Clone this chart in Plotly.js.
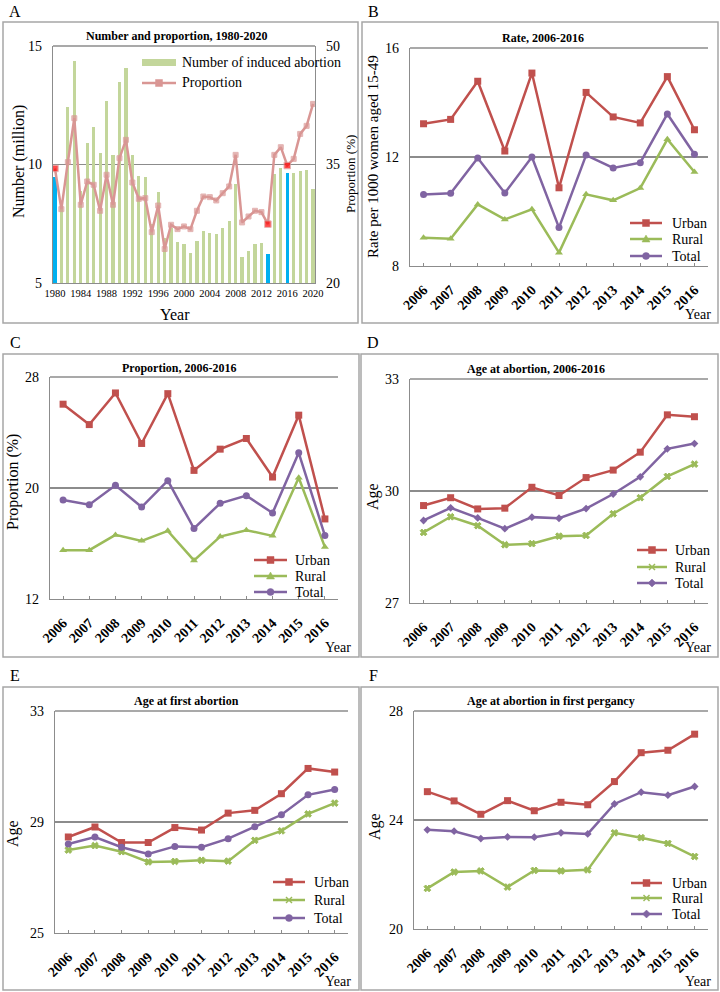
<!DOCTYPE html>
<html>
<head>
<meta charset="utf-8">
<script src="https://cdn.plot.ly/plotly-3.0.1.min.js"></script>
<style>html,body{margin:0;padding:0;background:#fff}#chart{width:720px;height:992px}</style>
</head>
<body>
<div id="chart"></div>
<script>
// ---------- DATA ----------
const yearsA = [1980,1981,1982,1983,1984,1985,1986,1987,1988,1989,1990,1991,1992,1993,1994,1995,1996,1997,1998,1999,2000,2001,2002,2003,2004,2005,2006,2007,2008,2009,2010,2011,2012,2013,2014,2015,2016,2017,2018,2019,2020];
const abortionNumber = [9.49,8.3,12.42,14.37,8.89,10.92,11.58,10.49,12.67,10.39,13.49,14.09,10.40,9.50,9.47,7.47,8.83,6.9,7.3,6.73,6.63,6.27,6.79,7.18,7.10,7.07,7.30,7.63,9.17,6.11,6.36,6.63,6.69,6.23,9.62,9.85,9.65,9.63,9.72,9.76,8.96];
const abortionProportion = [34.5,29.35,35.3,40.86,29.9,32.85,32.43,29.14,33.7,29.9,35.8,38.12,32.72,30.66,30.74,26.44,29.81,24.3,27.37,26.82,27.16,26.82,29.14,30.95,30.87,30.45,31.37,32.22,36.22,27.67,28.42,29.14,28.97,27.45,36.22,37.19,34.87,35.71,38.87,39.89,42.67];
const highlightYears = [1980,2013,2016];
const tickYearsA = [1980,1984,1988,1992,1996,2000,2004,2008,2012,2016,2020];
const legendA = ['Number of induced abortion', 'Proportion'];

const years = ['2006','2007','2008','2009','2010','2011','2012','2013','2014','2015','2016'];
const seriesNames = ['Urban','Rural','Total'];

const rateUrban = [13.22,13.38,14.78,12.22,15.08,10.87,14.37,13.47,13.25,14.95,13.0];
const rateRural = [9.04,9.0,10.26,9.71,10.08,8.49,10.63,10.41,10.86,12.65,11.45];
const rateTotal = [10.62,10.67,11.96,10.68,12.0,9.41,12.07,11.6,11.79,13.58,12.1];

const propUrban = [26.04,24.57,26.85,23.21,26.8,21.27,22.8,23.57,20.79,25.25,17.77];
const propRural = [15.52,15.52,16.62,16.19,16.91,14.78,16.5,16.96,16.55,20.74,15.74];
const propTotal = [19.14,18.8,20.19,18.63,20.53,17.08,18.9,19.45,18.2,22.54,16.57];

const ageUrban = [29.61,29.82,29.52,29.54,30.1,29.88,30.36,30.56,31.04,32.04,31.99];
const ageRural = [28.89,29.31,29.07,28.56,28.59,28.79,28.81,29.39,29.82,30.39,30.72];
const ageTotal = [29.21,29.55,29.28,28.99,29.3,29.27,29.53,29.92,30.38,31.13,31.27];

const firstUrban = [28.46,28.82,28.26,28.26,28.8,28.71,29.32,29.42,30.02,30.93,30.8];
const firstRural = [27.99,28.15,27.93,27.56,27.58,27.62,27.59,28.34,28.68,29.29,29.68];
const firstTotal = [28.21,28.46,28.09,27.85,28.12,28.09,28.4,28.83,29.26,29.98,30.17];

const pregUrban = [25.04,24.7,24.21,24.71,24.34,24.65,24.56,25.41,26.47,26.56,27.15];
const pregRural = [21.49,22.09,22.13,21.54,22.15,22.13,22.17,23.53,23.35,23.14,22.66];
const pregTotal = [23.64,23.59,23.32,23.38,23.37,23.53,23.49,24.59,25.02,24.91,25.23];

// ---------- STYLE ----------
const W = 720, H = 992;
const px = x => x / W;
const py = y => 1 - y / H;
const FONT = 'Liberation Serif, Times New Roman, serif';
const GRID = '#8c8c8c';
const COLORS = ['#c0504d', '#9bbb59', '#8064a2'];
const BAR_GREEN = '#c3d69b', BAR_BLUE = '#00b0f0', PROP_PINK = '#d99694', PROP_RED = '#ff0000';

// Plot areas (left, top, right, bottom) in pixels
const BOX = {
  A: [53, 46, 315, 283], B: [410, 48, 708, 266], C: [50, 377, 338, 599],
  D: [410, 379, 708, 603], E: [55, 711, 348, 933], F: [414, 711, 708, 929]
};

const traces = [];
// Panel A
traces.push({
  type: 'bar', x: yearsA, y: abortionNumber, width: 0.5, showlegend: false,
  marker: {color: yearsA.map(y => highlightYears.includes(y) ? BAR_BLUE : BAR_GREEN)},
  xaxis: 'x', yaxis: 'y', hoverinfo: 'skip'
});
traces.push({
  type: 'scatter', mode: 'lines+markers', x: yearsA, y: abortionProportion, showlegend: false,
  line: {color: PROP_PINK, width: 2.5},
  marker: {symbol: 'square',
    size: yearsA.map(y => highlightYears.includes(y) ? 6.5 : 5),
    color: yearsA.map(y => highlightYears.includes(y) ? PROP_RED : PROP_PINK)},
  xaxis: 'x', yaxis: 'y2', hoverinfo: 'skip'
});

function addPanel(xa, ya, data, symbols, sizes) {
  data.forEach((d, i) => {
    traces.push({
      type: 'scatter', mode: 'lines+markers', x: years, y: d, name: seriesNames[i], showlegend: false,
      xaxis: xa, yaxis: ya,
      line: {color: COLORS[i], width: 2.5},
      marker: {symbol: symbols[i], size: sizes[i], color: COLORS[i], line: {color: COLORS[i], width: symbols[i] === 'x' ? 1 : 0}},
      hoverinfo: 'skip'
    });
  });
}
const SYM_BC = ['square', 'triangle-up', 'circle'];
const SYM_DF = ['square', 'x', 'diamond'];
const SYM_E = ['square', 'x', 'circle'];
addPanel('x2', 'y3', [rateUrban, rateRural, rateTotal], SYM_BC, [7, 7, 7]);
addPanel('x3', 'y4', [propUrban, propRural, propTotal], SYM_BC, [7, 7, 7]);
addPanel('x4', 'y5', [ageUrban, ageRural, ageTotal], SYM_DF, [7, 6, 6]);
addPanel('x5', 'y6', [firstUrban, firstRural, firstTotal], SYM_E, [7, 6, 7]);
addPanel('x6', 'y7', [pregUrban, pregRural, pregTotal], SYM_DF, [7, 6, 6]);

function catX(b, yname) {
  return {
    domain: [px(b[0]), px(b[2])], anchor: yname, type: 'category', range: [-0.5, 10.5],
    showline: true, linecolor: GRID, linewidth: 1.2, showgrid: false, zeroline: false,
    ticks: 'inside', ticklen: 3, tickcolor: GRID, tickangle: -45,
    ticklabelstandoff: 9,
    tickfont: {family: FONT, size: 14, color: '#000', weight: 'bold'}
  };
}
function valY(b, xname, range, tv) {
  return {
    domain: [py(b[3]), py(b[1])], anchor: xname, range: range, tickvals: tv,
    showline: true, linecolor: GRID, linewidth: 1.2, showgrid: true, gridcolor: GRID, gridwidth: 1.2,
    zeroline: false, ticks: 'outside', ticklen: 7, tickcolor: 'rgba(0,0,0,0)',
    tickfont: {family: FONT, size: 14, color: '#000'}
  };
}

const annotations = [];
function ann(text, x, y, opts) {
  annotations.push(Object.assign({
    text: text, x: px(x), y: py(y), xref: 'paper', yref: 'paper', showarrow: false,
    xanchor: 'center', yanchor: 'middle', font: {family: FONT, size: 14, color: '#000'}
  }, opts || {}));
}
const shapes = [];
// Panel borders
[[3, 22, 358, 323], [362, 22, 718, 323], [3, 354, 359, 657], [361, 354, 718, 657], [3, 687, 359, 990], [361, 687, 718, 990]]
  .forEach(b => shapes.push({type: 'rect', xref: 'paper', yref: 'paper', x0: px(b[0]), x1: px(b[2]), y0: py(b[3]), y1: py(b[1]),
    line: {color: '#a6a6a6', width: 1.5}, fillcolor: 'rgba(0,0,0,0)', layer: 'below'}));

function pline(x0, y0, x1, y1, color, w) {
  shapes.push({type: 'line', xref: 'paper', yref: 'paper', x0: px(x0), y0: py(y0), x1: px(x1), y1: py(y1), line: {color: color, width: w}});
}
// Top gridline of each plot (at the axis maximum)
Object.values(BOX).forEach(b => pline(b[0], b[1], b[2], b[1], GRID, 1.4));

// Legend keys
function ppath(pts, color) {
  const d = pts.map((p, i) => (i ? 'L' : 'M') + px(p[0]) + ',' + py(p[1])).join(' ') + ' Z';
  shapes.push({type: 'path', xref: 'paper', yref: 'paper', path: d, fillcolor: color, line: {color: color, width: 0.5}});
}
function keyMarker(sym, cx, cy, color) {
  if (sym === 'square') ppath([[cx - 3.5, cy - 3.5], [cx + 3.5, cy - 3.5], [cx + 3.5, cy + 3.5], [cx - 3.5, cy + 3.5]], color);
  else if (sym === 'triangle-up') ppath([[cx, cy - 4], [cx + 4, cy + 3], [cx - 4, cy + 3]], color);
  else if (sym === 'diamond') ppath([[cx, cy - 4], [cx + 4, cy], [cx, cy + 4], [cx - 4, cy]], color);
  else if (sym === 'circle') shapes.push({type: 'circle', xref: 'paper', yref: 'paper', x0: px(cx - 3.5), x1: px(cx + 3.5), y0: py(cy + 3.5), y1: py(cy - 3.5), fillcolor: color, line: {color: color, width: 0.5}});
  else if (sym === 'x') { pline(cx - 3, cy - 3, cx + 3, cy + 3, color, 1.5); pline(cx - 3, cy + 3, cx + 3, cy - 3, color, 1.5); }
}
function legendBlock(x0, x1, tx, rows, syms) {
  rows.forEach((ry, i) => {
    pline(x0, ry, x1, ry, COLORS[i], 2.5);
    keyMarker(syms[i], (x0 + x1) / 2, ry, COLORS[i]);
    ann(seriesNames[i], tx, ry, {xanchor: 'left'});
  });
}
legendBlock(630, 662, 670, [223, 239, 256], SYM_BC);
legendBlock(254, 287, 293, [560, 576, 592], SYM_BC);
legendBlock(637, 667, 673, [550, 567, 583], SYM_DF);
legendBlock(273, 305, 312, [882, 900, 918], SYM_E);
legendBlock(631, 662, 670, [883, 898, 914], SYM_DF);
// Panel A legend
shapes.push({type: 'rect', xref: 'paper', yref: 'paper', x0: px(142), x1: px(176), y0: py(66), y1: py(59), fillcolor: BAR_GREEN, line: {width: 0}});
ann(legendA[0], 180, 63, {xanchor: 'left'});
pline(142, 83, 176, 83, PROP_PINK, 2.5);
keyMarker('square', 159, 83, PROP_PINK);
ann(legendA[1], 180, 83, {xanchor: 'left'});

// Panel letters
[['A', 15, 11], ['B', 373, 11], ['C', 15, 342], ['D', 373, 342], ['E', 15, 675], ['F', 373, 675]].forEach(l =>
  ann(l[0], l[1], l[2], {font: {family: FONT, size: 16, color: '#000'}}));
// Titles
const tf = {family: FONT, size: 12, color: '#000', weight: 'bold'};
ann('Number and proportion, 1980-2020', 177, 36, {font: tf});
ann('Rate, 2006-2016', 543, 38, {font: tf});
ann('Proportion, 2006-2016', 179, 368, {font: tf});
ann('Age at abortion, 2006-2016', 536, 369, {font: tf});
ann('Age at first abortion', 186, 701, {font: tf});
ann('Age at abortion in first pergancy', 551, 701, {font: tf});
// Axis titles
const yf = {family: FONT, size: 16, color: '#000'};
ann('Number (million)', 19, 162, {textangle: -90, font: yf});
ann('Proportion (%)', 350, 174, {textangle: -90, font: {family: FONT, size: 13, color: '#000'}});
ann('Year', 175, 314, {font: {family: FONT, size: 16, color: '#000'}});
ann('Rate per 1000 women aged 15-49', 373, 157, {textangle: -90, font: {family: FONT, size: 15, color: '#000'}});
ann('Proportion (%)', 13, 482, {textangle: -90, font: yf});
ann('Age', 373, 497, {textangle: -90, font: yf});
ann('Age', 13, 833, {textangle: -90, font: yf});
ann('Age', 375, 827, {textangle: -90, font: yf});
[[713, 314], [353, 647], [713, 647], [353, 981], [713, 981]].forEach(p =>
  ann('Year', p[0], p[1], {xanchor: 'right'}));

const layout = {
  width: W, height: H, margin: {l: 0, r: 0, t: 0, b: 0}, paper_bgcolor: '#fff', plot_bgcolor: 'rgba(0,0,0,0)',
  font: {family: FONT, color: '#000'}, showlegend: false, bargap: 0,
  xaxis: {
    domain: [px(BOX.A[0]), px(BOX.A[2])], anchor: 'y', range: [1979.7, 2020.3], tickvals: tickYearsA,
    showline: true, linecolor: GRID, linewidth: 1.2, showgrid: false, zeroline: false, ticks: '',
    tickfont: {family: FONT, size: 10.5, color: '#000'}
  },
  yaxis: valY(BOX.A, 'x', [5, 15], [5, 10, 15]),
  yaxis2: {
    overlaying: 'y', side: 'right', anchor: 'x', range: [20, 50], tickvals: [20, 35, 50],
    showline: true, linecolor: GRID, linewidth: 1.2, showgrid: false, zeroline: false,
    ticks: 'outside', ticklen: 7, tickcolor: 'rgba(0,0,0,0)',
    tickfont: {family: FONT, size: 14, color: '#000'}
  },
  xaxis2: catX(BOX.B, 'y3'), yaxis3: valY(BOX.B, 'x2', [8, 16], [8, 12, 16]),
  xaxis3: catX(BOX.C, 'y4'), yaxis4: valY(BOX.C, 'x3', [12, 28], [12, 20, 28]),
  xaxis4: catX(BOX.D, 'y5'), yaxis5: valY(BOX.D, 'x4', [27, 33], [27, 30, 33]),
  xaxis5: catX(BOX.E, 'y6'), yaxis6: valY(BOX.E, 'x5', [25, 33], [25, 29, 33]),
  xaxis6: catX(BOX.F, 'y7'), yaxis7: valY(BOX.F, 'x6', [20, 28], [20, 24, 28]),
  annotations: annotations, shapes: shapes
};

Plotly.newPlot('chart', traces, layout, {staticPlot: true, displayModeBar: false});
</script>
</body>
</html>
